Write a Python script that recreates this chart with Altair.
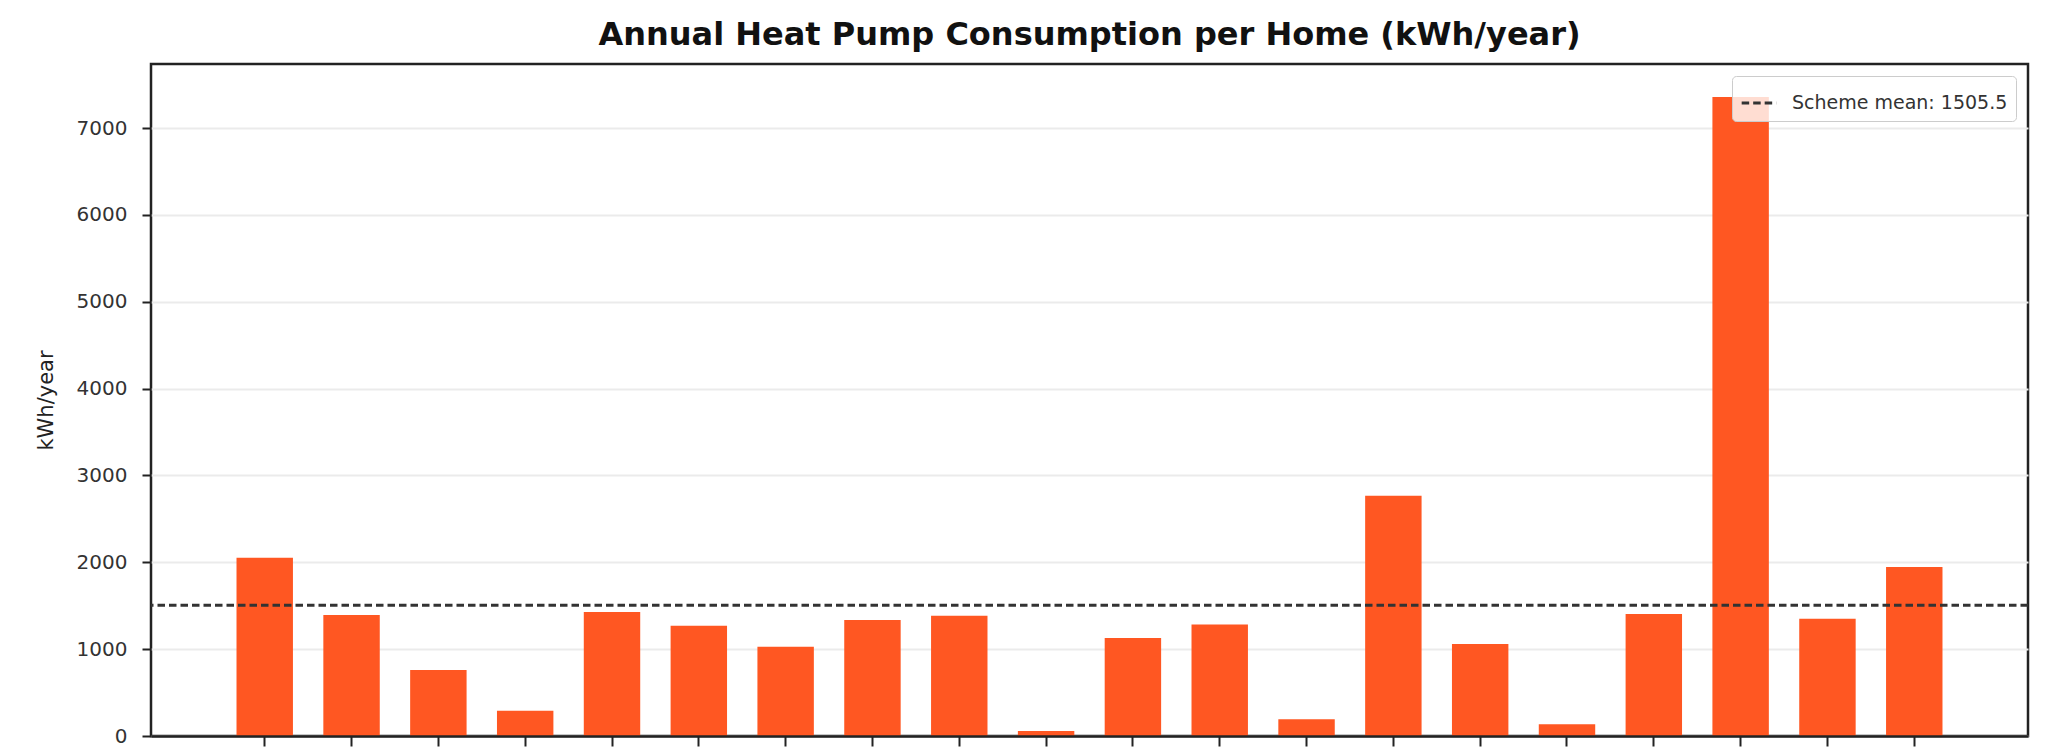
import altair as alt
import pandas as pd

# ---- data ----
homes = [f"Home {i}" for i in range(1, 21)]
consumption = [2053, 1393, 760, 292, 1427, 1270, 1028, 1335, 1385, 58,
               1128, 1285, 192, 2767, 1059, 134, 1404, 7358, 1349, 1945]
scheme_mean = 1505.5
y_ticks = [0, 1000, 2000, 3000, 4000, 5000, 6000, 7000]
y_max = 7737

bars_df = pd.DataFrame({"home": homes, "kwh": consumption})
mean_df = pd.DataFrame({"label": [f"Scheme mean: {scheme_mean}"], "mean": [scheme_mean]})

FONT = "DejaVu Sans"
DARK = "#222222"

y_scale = alt.Scale(domain=[0, y_max], nice=False, zero=True)
x_scale = alt.Scale(paddingInner=0.35, paddingOuter=0.985)

bars = alt.Chart(bars_df).mark_bar(color="#FF5722").encode(
    x=alt.X("home:N", sort=homes, scale=x_scale,
            axis=alt.Axis(labels=False, title=None, ticks=True, tickSize=10,
                          tickColor=DARK, tickWidth=2, bandPosition=0.5,
                          domain=True, domainColor=DARK, domainWidth=2.5,
                          grid=False, zindex=1)),
    y=alt.Y("kwh:Q", scale=y_scale,
            axis=alt.Axis(values=y_ticks, format="d", title="kWh/year",
                          titleFont=FONT, titleFontSize=21, titleFontWeight="normal",
                          titleColor=DARK, titlePadding=20,
                          labelFont=FONT, labelFontSize=20, labelColor="#333333",
                          labelPadding=15, tickSize=9, tickColor=DARK, tickWidth=2,
                          domain=False, grid=True, gridColor="#ebebeb", gridWidth=2)),
)

rule = alt.Chart(mean_df).mark_rule(strokeDash=[7.5, 4], strokeWidth=3).encode(
    y=alt.Y("mean:Q", scale=y_scale),
    color=alt.Color("label:N", scale=alt.Scale(range=["#333333"]),
                    legend=alt.Legend(title=None, orient="top-right", offset=12,
                                      symbolType="stroke", symbolDash=[7.5, 4],
                                      symbolStrokeWidth=3, symbolSize=1200,
                                      labelFont=FONT, labelFontSize=19,
                                      labelColor="#333333", labelOffset=14,
                                      labelLimit=600,
                                      padding=8, fillColor="rgba(255,255,255,0.8)",
                                      strokeColor="#cccccc", cornerRadius=4)),
)

chart = alt.layer(bars, rule).properties(
    width=1877,
    height=672,
    autosize=alt.AutoSizeParams(type="none"),
    padding={"left": 143, "top": 56, "right": 10, "bottom": 12},
    title=alt.TitleParams("Annual Heat Pump Consumption per Home (kWh/year)",
                          font=FONT, fontSize=32, fontWeight="bold",
                          color="#111111", anchor="middle", offset=12),
).configure(background="white").configure_view(stroke=DARK, strokeWidth=2.5)

chart.save("out.html", embed_options={"renderer": "svg", "actions": False})
